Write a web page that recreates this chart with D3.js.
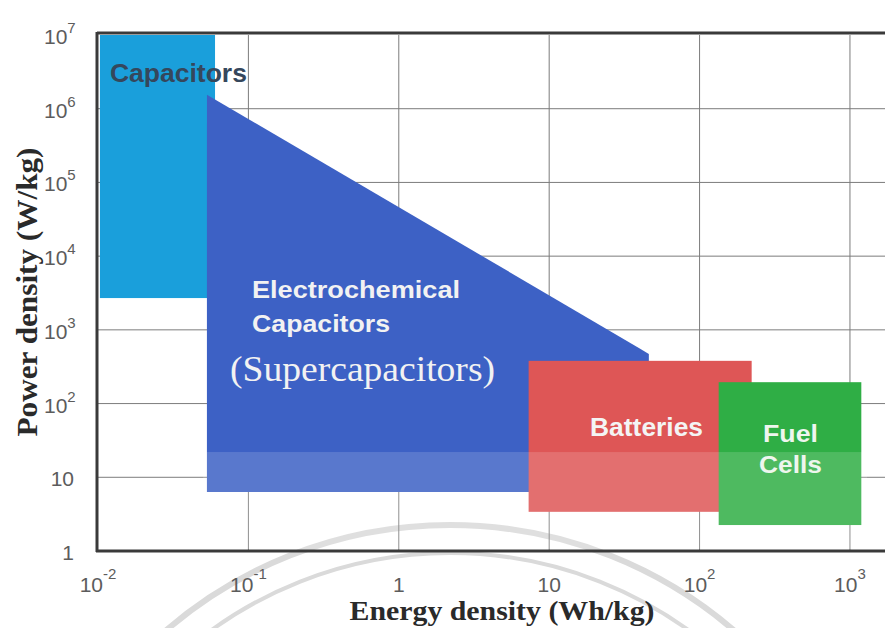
<!DOCTYPE html>
<html><head><meta charset="utf-8">
<script src="https://cdn.jsdelivr.net/npm/d3@7"></script>
<style>
html,body{margin:0;padding:0;background:#fff;}
svg{display:block;}
</style></head>
<body>
<svg id="chart" width="885" height="628"></svg>
<script>
// ---- data (energy density Wh/kg, power density W/kg) ----
const xTicks = [0.01, 0.1, 1, 10, 100, 1000];
const yTicks = [1, 10, 100, 1e3, 1e4, 1e5, 1e6, 1e7];
const capacitors = {name: "Capacitors", x0: 0.0103, x1: 0.060, y0: 2700, y1: 1e7};
const superPoly = [[0.053, 1.55e6], [40, 560], [46, 470], [46, 6.3], [0.053, 6.3]];
const batteries = {name: "Batteries", x0: 7.3, x1: 222, y0: 3.4, y1: 380};
const fuelCells = {name: "Fuel Cells", x0: 134, x1: 1190, y0: 2.25, y1: 195};
const fadeBelow = 22; // scan lightening below this power density
const labels = [
  {lines: ["Capacitors"], x: 0.0120, y: 2.3e6, cls: "cap"},
  {lines: ["Electrochemical", "Capacitors"], x: 0.1057, y: 2705, cls: "ec"},
  {lines: ["(Supercapacitors)"], x: 0.0755, y: 202, cls: "sc"},
  {lines: ["Batteries"], x: 18.7, y: 36.3, cls: "bat"},
  {lines: ["Fuel", "Cells"], x: 264, y: 30.1, cls: "fc"}
];

// ---- scales ----
const x = d3.scaleLog().domain([0.01, Math.pow(10, 3.233)]).range([98, 885]);
const y = d3.scaleLog().domain([1, 1e7]).range([551, 35]);
const svg = d3.select("#chart");

// watermark arcs (faint)
const wm = svg.append("g").attr("fill", "none").attr("stroke", "#dadada");
wm.append("circle").attr("cx", 450).attr("cy", 960).attr("r", 435).attr("stroke-width", 6);
wm.append("circle").attr("cx", 450).attr("cy", 960).attr("r", 407).attr("stroke-width", 4);

// grid
const grid = svg.append("g").attr("stroke", "#7c7c7c").attr("stroke-width", 1);
grid.selectAll("line.h").data(yTicks.filter(v => v > 1 && v < 1e7)).join("line")
  .attr("x1", x.range()[0]).attr("x2", x.range()[1])
  .attr("y1", d => y(d)).attr("y2", d => y(d));
grid.selectAll("line.v").data(xTicks.filter(v => v > 0.01)).join("line")
  .attr("x1", d => x(d)).attr("x2", d => x(d))
  .attr("y1", y(1e7)).attr("y2", y(1));

// shapes
const rect = (g, r, fill) => g.append("rect")
  .attr("x", x(r.x0)).attr("width", x(r.x1) - x(r.x0))
  .attr("y", y(r.y1)).attr("height", y(r.y0) - y(r.y1)).attr("fill", fill);
const shapes = svg.append("g");
rect(shapes, capacitors, "#1a9fdb");
shapes.append("path")
  .attr("d", d3.line().x(d => x(d[0])).y(d => y(d[1])).curve(d3.curveLinearClosed)(superPoly))
  .attr("fill", "#3d61c5");
rect(shapes, batteries, "#de5656");
rect(shapes, fuelCells, "#2fae45");
// lightened band from the scan
shapes.append("rect")
  .attr("x", x(0.05)).attr("width", x(1300) - x(0.05))
  .attr("y", y(fadeBelow)).attr("height", y(1) - y(fadeBelow) - 2)
  .attr("fill", "#fff").attr("opacity", 0.15);

// labels
const lab = svg.append("g");
const styles = {
  cap: {font: "bold 25px 'Liberation Sans', Arial, sans-serif", fill: "#35475c", lh: 0, len: [137]},
  ec: {font: "bold 24px 'Liberation Sans', Arial, sans-serif", fill: "#f2f2f2", lh: 34, len: [208, 138]},
  sc: {font: "36px 'Liberation Serif', 'Times New Roman', serif", fill: "#f2f2f2", lh: 0, len: [265]},
  bat: {font: "bold 25px 'Liberation Sans', Arial, sans-serif", fill: "#f4f4f4", lh: 0, len: [113]},
  fc: {font: "bold 24px 'Liberation Sans', Arial, sans-serif", fill: "#eef6ee", lh: 31, len: [55, 63]}
};
labels.forEach(l => {
  const s = styles[l.cls];
  l.lines.forEach((ln, i) => {
    const xx = l.cls === "fc" && i === 1 ? x(l.x) - 4 : x(l.x);
    lab.append("text").attr("x", xx).attr("y", y(l.y) + i * s.lh)
      .style("font", s.font).attr("fill", s.fill)
      .attr("textLength", s.len[i]).attr("lengthAdjust", "spacingAndGlyphs")
      .text(ln);
  });
});

// frame / axes lines
const ax = svg.append("g").attr("stroke", "#3a3a3a").attr("fill", "none");
ax.append("line").attr("x1", 97).attr("x2", 885).attr("y1", y(1e7) - 2).attr("y2", y(1e7) - 2).attr("stroke-width", 3);
ax.append("line").attr("x1", x(0.01) - 1).attr("x2", x(0.01) - 1).attr("y1", y(1e7) - 3).attr("y2", y(1) + 1).attr("stroke-width", 3);
ax.append("line").attr("x1", 96).attr("x2", 885).attr("y1", y(1)).attr("y2", y(1)).attr("stroke-width", 3);

// tick labels
function tickText(sel, v, supDy) {
  const e = Math.round(Math.log10(v));
  if (e === 0) { sel.text("1"); return; }
  if (e === 1) { sel.text("10"); return; }
  sel.append("tspan").text("10");
  sel.append("tspan").attr("dy", supDy).style("font-size", "15px").text(String(e));
}
const tickFont = "21px 'Liberation Sans', Arial, sans-serif";
yTicks.forEach(v => {
  const e = Math.round(Math.log10(v));
  const t = svg.append("text").attr("y", y(v) + 9).style("font", tickFont).attr("fill", "#5c5c5c");
  if (e >= 2) t.attr("x", 44); else t.attr("x", 74).attr("text-anchor", "end");
  tickText(t, v, -11);
});
xTicks.forEach(v => {
  const t = svg.append("text").attr("y", 592).style("font", tickFont).attr("fill", "#5c5c5c")
    .attr("x", x(v)).attr("text-anchor", "middle");
  tickText(t, v, -13);
});

// axis titles
svg.append("text").attr("transform", "translate(37,292) rotate(-90)")
  .attr("text-anchor", "middle").style("font", "bold 29px 'Liberation Serif', 'Times New Roman', serif")
  .attr("textLength", 289).attr("lengthAdjust", "spacingAndGlyphs")
  .attr("fill", "#2a2a2a").text("Power density (W/kg)");
svg.append("text").attr("x", 502).attr("y", 620)
  .attr("text-anchor", "middle").style("font", "bold 28px 'Liberation Serif', 'Times New Roman', serif")
  .attr("textLength", 305).attr("lengthAdjust", "spacingAndGlyphs")
  .attr("fill", "#2a2a2a").text("Energy density (Wh/kg)");
</script>
</body></html>
